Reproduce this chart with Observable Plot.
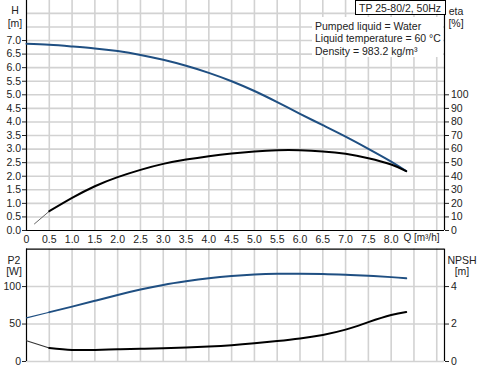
<!DOCTYPE html>
<html>
<head>
<meta charset="utf-8">
<script src="https://cdn.jsdelivr.net/npm/d3@7"></script>
<script src="https://cdn.jsdelivr.net/npm/@observablehq/plot@0.6"></script>
<style>
  html, body { margin: 0; padding: 0; background: #fff; }
  #wrap { position: relative; width: 481px; height: 369px; overflow: hidden;
          font-family: "Liberation Sans", Arial, sans-serif; font-size: 10.5px; color: #222; }
  #wrap svg { display: block; }
  .tbox { position: absolute; left: 355px; top: 0; width: 86px; height: 13px; border: 1px solid #000;
          background: #fff; padding-left: 3px; line-height: 14px; white-space: nowrap; }
  .ibox { position: absolute; left: 312px; top: 17px; width: 128px; height: 37px; background: #fff;
          padding: 3px 0 0 3px; line-height: 12.4px; white-space: nowrap; }
</style>
</head>
<body>
<div id="wrap"></div>
<script>
// ---- data ----
const qH    = [0, 0.5, 1, 1.5, 2, 2.5, 3, 3.5, 4, 4.5, 5, 5.5, 6, 6.5, 7, 7.5, 8, 8.33];
const head  = [6.88, 6.84, 6.78, 6.71, 6.61, 6.47, 6.29, 6.07, 5.81, 5.5, 5.14, 4.73, 4.3, 3.88, 3.46, 3.01, 2.54, 2.19];
const qEta  = [0.175, 0.5, 1, 1.5, 2, 2.5, 3, 3.5, 4, 4.5, 5, 5.5, 6, 6.5, 7, 7.5, 8, 8.33];
const eta   = [4.9, 14.2, 24, 32.6, 39.3, 44.7, 49.1, 52.3, 54.8, 56.8, 58.3, 59.2, 59.2, 58.3, 56.5, 53.3, 48.6, 43.7];
const qP    = [0, 0.5, 1, 1.5, 2, 2.5, 3, 3.5, 4, 4.5, 5, 5.5, 6, 6.5, 7, 7.5, 8, 8.33];
const p2    = [58.2, 65.8, 73.2, 81, 88.8, 96, 102.2, 107, 111, 114, 116, 117, 117.2, 116.8, 115.7, 114.3, 112.6, 111];
const npsh  = [1.11, 0.72, 0.62, 0.62, 0.65, 0.68, 0.71, 0.75, 0.8, 0.87, 0.97, 1.09, 1.23, 1.42, 1.7, 2.1, 2.48, 2.64];

const qTicks    = [0, 0.5, 1, 1.5, 2, 2.5, 3, 3.5, 4, 4.5, 5, 5.5, 6, 6.5, 7, 7.5, 8];
const qGrid     = [0.5, 1, 1.5, 2, 2.5, 3, 3.5, 4, 4.5, 5, 5.5, 6, 6.5, 7, 7.5, 8, 8.5, 9];
const hTicks    = [0, 0.5, 1, 1.5, 2, 2.5, 3, 3.5, 4, 4.5, 5, 5.5, 6, 6.5, 7];
const hGrid     = [0.5, 1, 1.5, 2, 2.5, 3, 3.5, 4, 4.5, 5, 5.5, 6, 6.5, 7, 7.5, 8];
const etaTicks  = [0, 10, 20, 30, 40, 50, 60, 70, 80, 90, 100];
const p2Ticks   = [0, 50, 100];
const npshTicks = [0, 2, 4];

const infoLines = ["Pumped liquid = Water", "Liquid temperature = 60 °C", "Density = 983.2 kg/m³"];
const titleText = "TP 25-80/2, 50Hz";

// ---- scales / constants ----
const xMax = 9.17, hMax = 8.475, pMax = 150;
const etaPerH = 20;   // 100 % <-> 5.0 m
const wPerM = 25;     // 2 m NPSH <-> 50 W
const blue = "#1f4f82", gridC = "#d2d2d2";
const font = "Liberation Sans, Arial, sans-serif";
const curve = "natural";

const rows = (qs, vs, f = v => v) => qs.map((q, i) => ({Q: q, v: f(vs[i])}));
const hRows = rows(qH, head);
const eRows = rows(qEta, eta, v => v / etaPerH);
const pRows = rows(qP, p2);
const nRows = rows(qP, npsh, v => v * wPerM);
const first = r => r.filter(d => d.Q <= 0.5);
const rest  = r => r.filter(d => d.Q >= 0.5);

const style = {fontFamily: font, fontSize: "10.5px", color: "#222", background: "#fff", overflow: "visible"};
const grid = {stroke: gridC, strokeOpacity: 1, strokeWidth: 1.6};

const topPlot = Plot.plot({
  width: 481, height: 247,
  marginLeft: 26, marginRight: 37, marginTop: 0, marginBottom: 17,
  x: {domain: [0, xMax], axis: null},
  y: {domain: [0, hMax], axis: null},
  style,
  marks: [
    Plot.gridX(qGrid, grid),
    Plot.gridY(hGrid, grid),
    Plot.ruleX([0, xMax], {stroke: "#000", strokeWidth: 1.2}),
    Plot.ruleY([0], {stroke: "#000", strokeWidth: 1.2}),
    Plot.axisY(hTicks, {anchor: "left", tickSize: 4, tickPadding: 1.5, tickFormat: d => d.toFixed(1), label: null}),
    Plot.axisY(etaTicks.map(e => e / etaPerH), {anchor: "right", tickSize: 4, tickPadding: 2.5,
      tickFormat: d => String(Math.round(d * etaPerH)), label: null}),
    Plot.axisX(qTicks, {anchor: "bottom", tickSize: 0, tickPadding: 5,
      tickFormat: d => d === 0 ? "0" : d.toFixed(1), label: null}),
    Plot.text(["Q [m³/h]"], {frameAnchor: "bottom-right", dx: -5, dy: 10.5, textAnchor: "end", fill: "#222", fontSize: 10}),
    Plot.text(["H"], {frameAnchor: "top-left", dx: -11.5, dy: 6.5, textAnchor: "middle", fill: "#222"}),
    Plot.text(["[m]"], {frameAnchor: "top-left", dx: -11.5, dy: 19, textAnchor: "middle", fill: "#222"}),
    Plot.text(["eta"], {frameAnchor: "top-right", dx: 11.5, dy: 7, textAnchor: "middle", fill: "#222"}),
    Plot.text(["[%]"], {frameAnchor: "top-right", dx: 11.5, dy: 19, textAnchor: "middle", fill: "#222"}),
    Plot.line(hRows, {x: "Q", y: "v", stroke: blue, strokeWidth: 2, curve}),
    Plot.line(first(eRows), {x: "Q", y: "v", stroke: "#666", strokeWidth: 1, curve}),
    Plot.line(rest(eRows), {x: "Q", y: "v", stroke: "#000", strokeWidth: 2, curve})
  ]
});

const bottomPlot = Plot.plot({
  width: 481, height: 122,
  marginLeft: 26, marginRight: 37, marginTop: 1.6, marginBottom: 8,
  x: {domain: [0, xMax], axis: null},
  y: {domain: [0, pMax], axis: null},
  style,
  marks: [
    Plot.gridX(qGrid, grid),
    Plot.gridY(p2Ticks, grid),
    Plot.ruleX([0, xMax], {stroke: "#000", strokeWidth: 1.2}),
    Plot.ruleY([pMax], {stroke: "#000", strokeWidth: 1.2}),
    Plot.axisY(p2Ticks, {anchor: "left", tickSize: 4, tickPadding: 1.5, label: null}),
    Plot.axisY(npshTicks.map(n => n * wPerM), {anchor: "right", tickSize: 4, tickPadding: 2.5,
      tickFormat: d => String(Math.round(d / wPerM)), label: null}),
    Plot.text(["P2"], {frameAnchor: "top-left", dx: -12.5, dy: 7.5, textAnchor: "middle", fill: "#222"}),
    Plot.text(["[W]"], {frameAnchor: "top-left", dx: -12.5, dy: 18.5, textAnchor: "middle", fill: "#222"}),
    Plot.text(["NPSH"], {frameAnchor: "top-right", dx: 17.5, dy: 7.5, textAnchor: "middle", fill: "#222"}),
    Plot.text(["[m]"], {frameAnchor: "top-right", dx: 17.5, dy: 18.5, textAnchor: "middle", fill: "#222"}),
    Plot.line(first(pRows), {x: "Q", y: "v", stroke: blue, strokeWidth: 1.1, curve}),
    Plot.line(rest(pRows), {x: "Q", y: "v", stroke: blue, strokeWidth: 2, curve}),
    Plot.line(first(nRows), {x: "Q", y: "v", stroke: "#333", strokeWidth: 1.1, curve}),
    Plot.line(rest(nRows), {x: "Q", y: "v", stroke: "#000", strokeWidth: 2, curve})
  ]
});

const wrap = document.getElementById("wrap");
wrap.appendChild(topPlot);
wrap.appendChild(bottomPlot);

const info = document.createElement("div");
info.className = "ibox";
infoLines.forEach(t => { const l = document.createElement("div"); l.textContent = t; info.appendChild(l); });
wrap.appendChild(info);

const tb = document.createElement("div");
tb.className = "tbox";
tb.textContent = titleText;
wrap.appendChild(tb);
</script>
</body>
</html>
